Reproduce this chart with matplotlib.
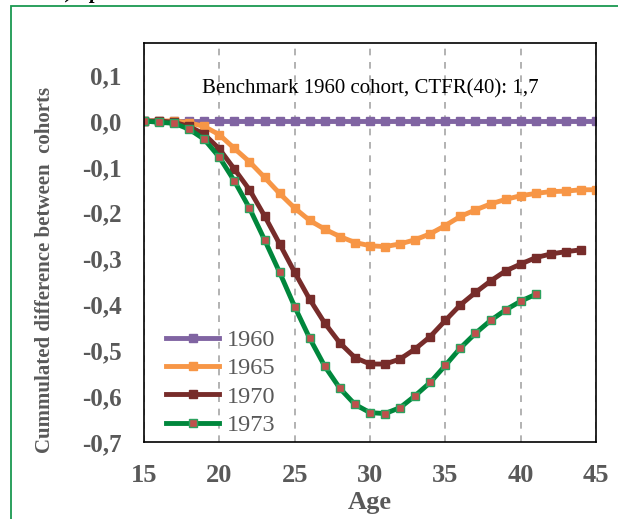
import matplotlib
matplotlib.use('Agg')
import matplotlib.pyplot as plt
from matplotlib.patches import Rectangle

plt.rcParams['font.family'] = ['Liberation Serif', 'DejaVu Serif']

ages_60 = list(range(15, 46))
c1960 = [0.0] * len(ages_60)

ages_65 = list(range(15, 46))
c1965 = [0.0, 0.0, 0.0, -0.004, -0.012, -0.030, -0.060, -0.089, -0.123, -0.158,
         -0.190, -0.217, -0.236, -0.252, -0.265, -0.272, -0.274, -0.268, -0.259,
         -0.246, -0.228, -0.208, -0.194, -0.181, -0.171, -0.163, -0.158, -0.154,
         -0.153, -0.150, -0.150]

ages_70 = list(range(15, 45))
c1970 = [0.0, 0.0, -0.003, -0.012, -0.029, -0.061, -0.105, -0.150, -0.207, -0.268,
         -0.330, -0.389, -0.441, -0.484, -0.516, -0.530, -0.530, -0.519, -0.497,
         -0.470, -0.435, -0.401, -0.374, -0.349, -0.327, -0.312, -0.298, -0.290,
         -0.285, -0.281]

ages_73 = list(range(15, 42))
c1973 = [0.0, -0.003, -0.005, -0.018, -0.040, -0.079, -0.131, -0.190, -0.259, -0.330,
         -0.405, -0.474, -0.535, -0.583, -0.618, -0.636, -0.638, -0.625, -0.599,
         -0.570, -0.533, -0.495, -0.463, -0.435, -0.412, -0.393, -0.378]

fig = plt.figure(figsize=(6.18, 5.19), dpi=100)
ax = fig.add_axes([144 / 618, 1 - 442 / 519, 452 / 618, 399 / 519])

# green frame around the panel
fig.patches.append(Rectangle((11 / 618, -0.1), 1.2, 1 - 6 / 519 + 0.1,
                             transform=fig.transFigure, fill=False,
                             edgecolor='#1a9850', linewidth=1.3))
# panel title, mostly cut off at the top edge
fig.text(0.09, 1 + 2 / 519, 'b) Spain', fontsize=15, fontweight='bold',
         fontstyle='italic', va='baseline')

ax.plot(ages_60, c1960, color='#8064A2', lw=3.5, marker='s', ms=5.5,
        label='1960')
ax.plot(ages_65, c1965, color='#F79646', lw=3.5, marker='s', ms=5.5,
        label='1965')
ax.plot(ages_70, c1970, color='#772C2A', lw=3.5, marker='s', ms=5.5,
        label='1970')
ax.plot(ages_73, c1973, color='#00873C', lw=3.5, marker='s', ms=5.5,
        mfc='#C0504D', mec='#2ca25f', mew=1, label='1973')

ax.set_xlim(15, 45)
ax.set_ylim(-0.7, 0.17)
ax.set_xticks(range(15, 46, 5))
ax.set_yticks([0.1, 0.0, -0.1, -0.2, -0.3, -0.4, -0.5, -0.6, -0.7])
ax.set_yticklabels(['0,1', '0,0', '-0,1', '-0,2', '-0,3', '-0,4', '-0,5',
                    '-0,6', '-0,7'])
ax.tick_params(axis='both', length=0, colors='#595959')
ax.tick_params(axis='x', labelsize=19, pad=16)
ax.tick_params(axis='y', labelsize=18, pad=16)
for lab in ax.get_xticklabels() + ax.get_yticklabels():
    lab.set_fontweight('bold')

ax.grid(axis='x', color='#A6A6A6', linestyle=(0, (4, 4)), linewidth=1.2)
for s in ax.spines.values():
    s.set_color('black')
    s.set_linewidth(1.2)

ax.set_xlabel('Age', fontsize=19, fontweight='bold', color='#595959', labelpad=3)
ax.set_ylabel('Cummulated difference between  cohorts', fontsize=15,
              fontweight='bold', color='#595959')
ax.yaxis.set_label_coords(-0.198, 0.43)

ax.text(0.5, 0.885, 'Benchmark 1960 cohort, CTFR(40): 1,7',
        transform=ax.transAxes, ha='center', va='center', fontsize=15)

leg = ax.legend(loc='lower left', bbox_to_anchor=(0.0, -0.04), frameon=False,
                fontsize=17.5, handlelength=2.2, labelspacing=0.26,
                handletextpad=0.3)
for t in leg.get_texts():
    t.set_color('#595959')

fig.savefig('out.png', dpi=100)
